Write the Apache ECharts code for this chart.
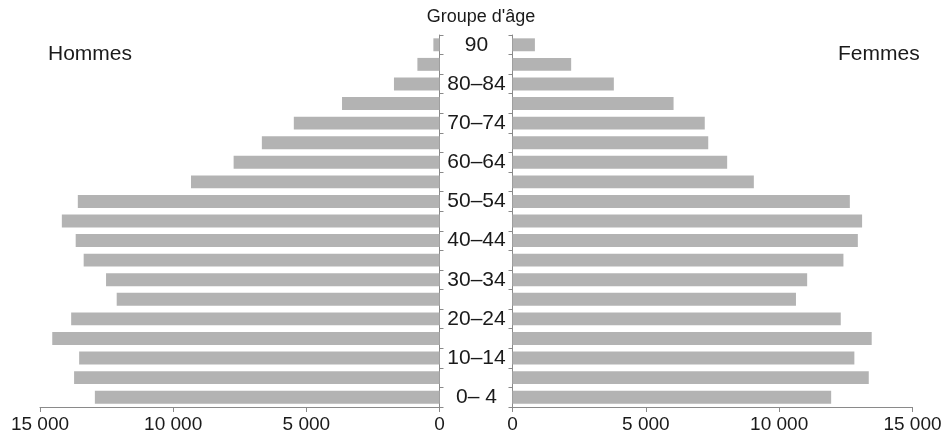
<!DOCTYPE html>
<html>
<head>
<meta charset="utf-8">
<script src="https://cdn.jsdelivr.net/npm/echarts@6/dist/echarts.min.js"></script>
<style>html,body{margin:0;padding:0;background:#fff;}#c{width:948px;height:446px;}</style>
</head>
<body>
<div id="c"></div>
<script>
const ageGroups = ["0– 4","5–9","10–14","15–19","20–24","25–29","30–34","35–39","40–44","45–49","50–54","55–59","60–64","65–69","70–74","75–79","80–84","85–89","90"];
const hommes = [12940,13720,13530,14540,13830,12120,12520,13360,13660,14180,13580,9330,7730,6670,5470,3660,1710,830,230];
const femmes = [11950,13360,12820,13470,12310,10630,11050,12410,12950,13110,12650,9050,8050,7340,7210,6040,3800,2200,840];
const xTicks = [0,5000,10000,15000];

const FONT = '"Liberation Sans", Arial, sans-serif';
const fmt = v => String(v).replace(/\B(?=(\d{3})+(?!\d))/g, ' ');
const axisCol = '#8a8a8a';
const chart = echarts.init(document.getElementById('c'));
const xAxisBase = {
  type: 'value', min: xTicks[0], max: xTicks[xTicks.length-1], interval: xTicks[1]-xTicks[0],
  axisLine: {show: true, lineStyle: {color: axisCol, width: 1}},
  axisTick: {show: true, length: 5, lineStyle: {color: axisCol}},
  splitLine: {show: false},
  axisLabel: {formatter: fmt, fontSize: 19, color: '#1a1a1a', fontFamily: FONT, margin: 8}
};
const yAxisBase = {
  type: 'category', data: ageGroups,
  axisLine: {show: true, lineStyle: {color: axisCol, width: 1}},
  axisTick: {show: true, length: 4, interval: 0, lineStyle: {color: axisCol}},
  splitLine: {show: false}
};
chart.setOption({
  animation: false,
  backgroundColor: '#fff',
  title: [
    {text: "Groupe d'âge", left: 476, top: 3, textAlign: 'center', textStyle: {fontSize: 18, fontWeight: 'normal', color: '#1a1a1a', fontFamily: FONT}},
    {text: 'Hommes', left: 43, top: 39, textStyle: {fontSize: 21, fontWeight: 'normal', color: '#1a1a1a', fontFamily: FONT}},
    {text: 'Femmes', left: 833, top: 39, textStyle: {fontSize: 21, fontWeight: 'normal', color: '#1a1a1a', fontFamily: FONT}}
  ],
  grid: [
    {left: 40, right: 508.5, top: 35, bottom: 39},
    {left: 512.5, right: 35.5, top: 35, bottom: 39}
  ],
  xAxis: [
    Object.assign({}, xAxisBase, {gridIndex: 0, inverse: true}),
    Object.assign({}, xAxisBase, {gridIndex: 1})
  ],
  yAxis: [
    Object.assign({}, yAxisBase, {gridIndex: 0, position: 'right',
      axisLabel: {show: true, interval: (i) => i % 2 === 0, align: 'center', margin: 37, fontSize: 21, color: '#1a1a1a', fontFamily: FONT}}),
    Object.assign({}, yAxisBase, {gridIndex: 1, position: 'left', axisLabel: {show: false}})
  ],
  series: [
    {type: 'bar', xAxisIndex: 0, yAxisIndex: 0, data: hommes, barCategoryGap: '34%', itemStyle: {color: '#b3b3b3'}, silent: true},
    {type: 'bar', xAxisIndex: 1, yAxisIndex: 1, data: femmes, barCategoryGap: '34%', itemStyle: {color: '#b3b3b3'}, silent: true}
  ]
});
</script>
</body>
</html>
